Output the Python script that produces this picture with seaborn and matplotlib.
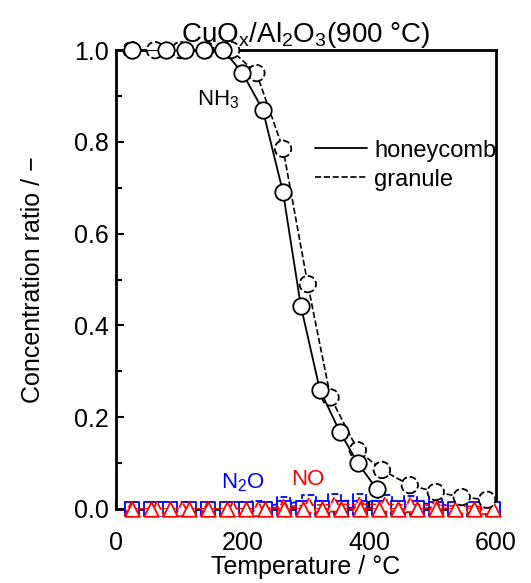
import numpy as np
import pandas as pd
import seaborn as sns
import matplotlib
from matplotlib import pyplot as plt

# NH3 conversion curves
hc_temp = [25, 80, 110, 140, 170, 200, 232, 264, 292, 322, 354, 382, 412]
hc_nh3 = [1.0, 1.0, 1.0, 1.0, 1.0, 0.95, 0.87, 0.69, 0.443, 0.26, 0.167, 0.10, 0.043]
gr_temp = [25, 62, 102, 142, 182, 222, 264, 303, 339, 382, 420, 464, 505, 546, 586]
gr_nh3 = [1.0, 1.0, 1.0, 1.0, 1.0, 0.95, 0.785, 0.49, 0.243, 0.128, 0.085, 0.052, 0.037, 0.026, 0.02]

# by-products N2O / NO
hc_bp_temp = [25, 55, 85, 115, 145, 175, 205, 235, 265, 295, 325, 355, 385, 415,
              445, 475, 505, 535, 565, 595]
hc_n2o = [0.0, 0.0, 0.0, 0.0, 0.0, 0.0, 0.0, 0.0, 0.002, 0.003, 0.003, 0.003, 0.003, 0.003,
          0.002, 0.002, 0.001, 0.001, 0.0, 0.0]
hc_no = [0.0] * 20
gr_bp_temp = [25, 65, 105, 145, 185, 225, 265, 305, 345, 385, 425, 465, 505, 545, 585]
gr_n2o = [0.0, 0.0, 0.0, 0.0, 0.0, 0.004, 0.012, 0.017, 0.018, 0.018, 0.016, 0.014,
          0.01, 0.007, 0.005]
gr_no = [0.0, 0.0, 0.0, 0.0, 0.0, 0.0, 0.005, 0.008, 0.01, 0.01, 0.01, 0.009, 0.008,
         0.006, 0.005]

sns.set_style("ticks")
plt.rcParams['font.family'] = ['Liberation Sans', 'DejaVu Sans']
plt.rcParams['mathtext.default'] = 'regular'
plt.rcParams['text.color'] = 'black'
plt.rcParams['axes.labelcolor'] = 'black'
plt.rcParams['xtick.color'] = 'black'
plt.rcParams['ytick.color'] = 'black'
plt.rcParams['axes.edgecolor'] = 'black'

fig, ax = plt.subplots(figsize=(5.31, 5.83), dpi=100)
fig.subplots_adjust(left=0.218, right=0.934, top=0.914, bottom=0.127)

# baseline by-products
sns.lineplot(x=gr_bp_temp, y=gr_n2o, ax=ax, color='blue', lw=1.2, ls='--', zorder=2)
sns.scatterplot(x=gr_bp_temp, y=gr_n2o, ax=ax, marker='s', s=90, facecolor='white',
                edgecolor='blue', linewidth=1.3, linestyle='--', zorder=3, clip_on=False)
sns.lineplot(x=hc_bp_temp, y=hc_n2o, ax=ax, color='blue', lw=1.2, zorder=2)
sns.scatterplot(x=hc_bp_temp, y=hc_n2o, ax=ax, marker='s', s=90, facecolor='white',
                edgecolor='blue', linewidth=1.3, zorder=3, clip_on=False)
sns.lineplot(x=gr_bp_temp, y=gr_no, ax=ax, color='red', lw=1.2, ls='--', zorder=4)
sns.scatterplot(x=gr_bp_temp, y=gr_no, ax=ax, marker='^', s=110, facecolor='white',
                edgecolor='red', linewidth=1.3, linestyle='--', zorder=5, clip_on=False)
sns.lineplot(x=hc_bp_temp, y=hc_no, ax=ax, color='red', lw=1.2, zorder=4)
sns.scatterplot(x=hc_bp_temp, y=hc_no, ax=ax, marker='^', s=110, facecolor='white',
                edgecolor='red', linewidth=1.3, zorder=5, clip_on=False)

# NH3
sns.lineplot(x=gr_temp, y=gr_nh3, ax=ax, color='black', lw=1.2, ls='--', zorder=6,
             label='granule')
sns.scatterplot(x=gr_temp, y=gr_nh3, ax=ax, marker='o', s=140, facecolor='white',
                edgecolor='black', linewidth=1.3, linestyle='--', zorder=7, clip_on=False)
sns.lineplot(x=hc_temp, y=hc_nh3, ax=ax, color='black', lw=1.3, zorder=8,
             label='honeycomb')
sns.scatterplot(x=hc_temp, y=hc_nh3, ax=ax, marker='o', s=140, facecolor='white',
                edgecolor='black', linewidth=1.3, zorder=9, clip_on=False)

ax.set_xlim(0, 600)
ax.set_ylim(0, 1.0)
ax.set_xticks([0, 200, 400, 600])
ax.set_xticks([100, 300, 500], minor=True)
ax.set_yticks([0, 0.2, 0.4, 0.6, 0.8, 1.0])
ax.set_yticks([0.1, 0.3, 0.5, 0.7, 0.9], minor=True)
ax.set_yticklabels(['0.0', '0.2', '0.4', '0.6', '0.8', '1.0'])
ax.tick_params(which='major', direction='in', length=6, width=1.5, labelsize=18)
ax.tick_params(axis='x', which='major', pad=16)
ax.tick_params(axis='y', which='major', pad=5)
ax.tick_params(which='minor', direction='in', length=4, width=1.5)
for sp in ax.spines.values():
    sp.set_linewidth(2)
    sp.set_zorder(1)
ax.set_xlabel('Temperature / °C', fontsize=18, labelpad=0)
ax.set_ylabel('Concentration ratio / −', fontsize=18, labelpad=21)
ax.set_title(r'CuO$_x$/Al$_2$O$_3$(900 °C)', fontsize=20, pad=4)

handles, labels = ax.get_legend_handles_labels()
ax.legend(handles[::-1], labels[::-1], loc='upper left', bbox_to_anchor=(0.524, 0.805),
          frameon=False, fontsize=17, handlelength=2.2, labelspacing=0.3,
          handletextpad=0.3, borderpad=0, borderaxespad=0)

ax.text(161, 0.893, r'NH$_3$', fontsize=16, ha='center', va='center')
ax.text(200, 0.057, r'N$_2$O', fontsize=16, color='blue', ha='center', va='center')
ax.text(303, 0.065, 'NO', fontsize=16, color='red', ha='center', va='center')

plt.savefig('out.png')
